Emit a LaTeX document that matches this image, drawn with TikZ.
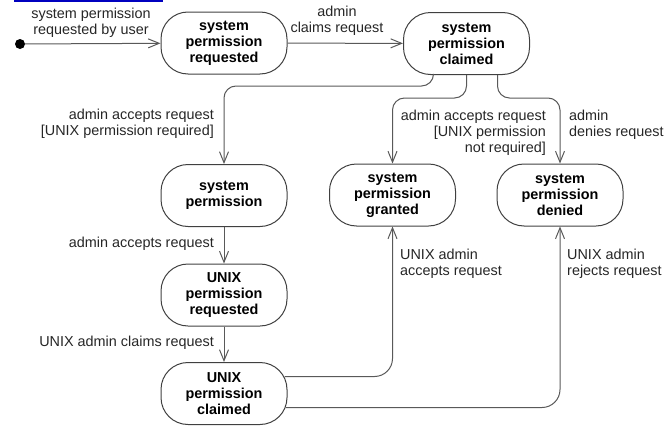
\documentclass[tikz,border=0pt]{standalone}
\usepackage{fontspec}
\setmainfont{Liberation Sans}
\usetikzlibrary{arrows.meta}
\begin{document}
\begin{tikzpicture}[x=1pt,y=-1pt,
  state/.style={draw=black!75, line width=1pt, rounded corners=27pt, minimum width=126pt, minimum height=62pt, inner sep=0pt, align=center, font=\fontsize{14.4}{16}\selectfont\bfseries},
  lbl/.style={inner sep=0pt, font=\fontsize{14.4}{16}\selectfont, text=black!85},
  conn/.style={draw=black!65, line width=1pt, rounded corners=12pt, -{Straight Barb[length=11pt,width=9pt]}},
]
\useasboundingbox (0,0) rectangle (667,431);
\draw[blue!75!black, line width=3pt] (14,0) -- (163,0);

\node[circle, fill=black, minimum size=10pt, inner sep=0pt] (init) at (20,44) {};
\node[state] (n1) at (224,43) {system\\permission\\requested};
\node[state] (n2) at (466.5,43.5) {system\\permission\\claimed};
\node[state] (n3) at (224,195.5) {system\\permission};
\node[state] (n4) at (392.5,195) {system\\permission\\granted};
\node[state] (n5) at (560,195) {system\\permission\\denied};
\node[state] (n6) at (224,295) {UNIX\\permission\\requested};
\node[state] (n7) at (224,393.5) {UNIX\\permission\\claimed};

\draw[conn] (init) -- (n1);
\draw[conn] (n1) -- (n2);
\draw[conn] ([xshift=-33pt]n2.south) -- ++(0,11) -| (n3.north);
\draw[conn] (n2.south) -- ++(0,23) -| (n4.north);
\draw[conn] ([xshift=31pt]n2.south) -- ++(0,23) -| (n5.north);
\draw[conn] (n3) -- (n6);
\draw[conn] (n6) -- (n7);
\draw[conn,rounded corners=18pt] ([xshift=-3pt,yshift=17pt]n7.east) -| (n4.south);
\draw[conn,rounded corners=18pt] ([xshift=-2pt,yshift=-14pt]n7.east) -| (n5.south);

\node[lbl, align=center] (l1) at (91,22.5) {system permission\\requested by user};
\node[lbl, align=center] (l2) at (337,20.5) {admin\\claims request};
\node[lbl, align=right, anchor=east] (l3) at (214,124) {admin accepts request\\{[UNIX permission required]}};
\node[lbl, align=right, anchor=east] (l4) at (546,133) {admin accepts request\\{[UNIX permission}\\not required]};
\node[lbl, align=left, anchor=west] (l5) at (569,124.5) {admin\\denies request};
\node[lbl, anchor=east] (l6) at (214,244) {admin accepts request};
\node[lbl, anchor=east] (l7) at (214,343) {UNIX admin claims request};
\node[lbl, align=left, anchor=west] (l8) at (400,263.5) {UNIX admin\\accepts request};
\node[lbl, align=left, anchor=west] (l9) at (567,263.5) {UNIX admin\\rejects request};
\end{tikzpicture}
\end{document}
